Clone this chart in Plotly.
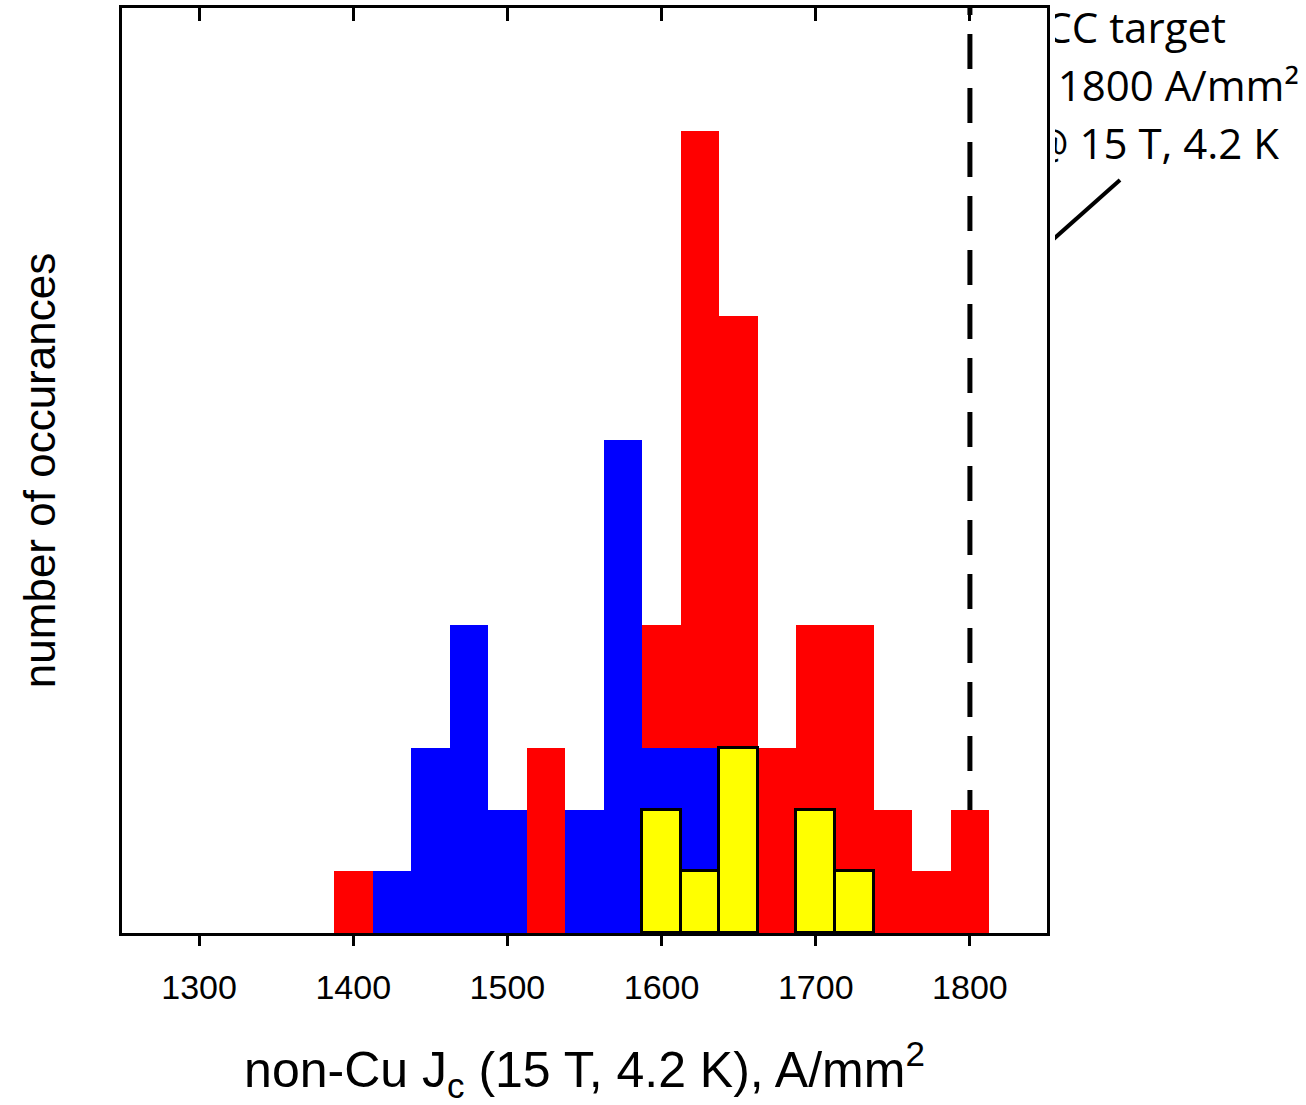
import plotly.graph_objects as go

# ---- data (bin centres in A/mm^2, counts) ----
red_x = [1400, 1500, 1525, 1575, 1600, 1625, 1650, 1675, 1700, 1725, 1750, 1775, 1800]
red_y = [1, 2, 3, 4, 5, 13, 10, 3, 5, 5, 2, 1, 2]

blue_x = [1425, 1450, 1475, 1500, 1550, 1575, 1600, 1625]
blue_y = [1, 3, 5, 2, 2, 8, 3, 3]

yellow_x = [1600, 1625, 1650, 1700, 1725]
yellow_y = [2, 1, 3, 2, 1]

BIN_WIDTH = 25
TARGET_JC = 1800
x_ticks = [1300, 1400, 1500, 1600, 1700, 1800]

note_lines = ["FCC target", "1800 A/mm²", "@ 15 T, 4.2 K"]

# ---- layout geometry (pixels) ----
W, H = 1306, 1105
ML, MR, MT, MB = 122, 0, 8, 172
PLOT_R = 1047
CLIP_L = 1055
paper_w = W - ML - MR
main_dom = (PLOT_R - ML) / paper_w
note_dom = (CLIP_L - ML) / paper_w

fig = go.Figure()
fig.add_trace(go.Bar(x=red_x, y=red_y, width=BIN_WIDTH, marker=dict(color="#ff0000", line=dict(width=0)),
                     showlegend=False))
fig.add_trace(go.Bar(x=blue_x, y=blue_y, width=BIN_WIDTH, marker=dict(color="#0000ff", line=dict(width=0)),
                     showlegend=False))
fig.add_trace(go.Bar(x=yellow_x, y=yellow_y, width=BIN_WIDTH,
                     marker=dict(color="#ffff00", line=dict(width=3, color="black")), showlegend=False))

# invisible trace to carry the mirrored top axis
fig.add_trace(go.Scatter(x=[TARGET_JC], y=[0], xaxis="x2", yaxis="y", mode="markers",
                         marker=dict(opacity=0), hoverinfo="skip", showlegend=False))

# target note, clipped on its left side
fig.add_trace(go.Scatter(x=[1226, 1299, 1279], y=[32, 90, 148], xaxis="x3", yaxis="y3",
                         mode="text", text=note_lines, textposition="middle left",
                         textfont=dict(family="Open Sans", size=42, color="black"),
                         cliponaxis=True, hoverinfo="skip", showlegend=False))
fig.add_trace(go.Scatter(x=[1120, 1030], y=[180, 260], xaxis="x3", yaxis="y3",
                         mode="lines", line=dict(color="black", width=4),
                         cliponaxis=True, hoverinfo="skip", showlegend=False))

fig.add_shape(type="line", xref="x", yref="y", x0=TARGET_JC, x1=TARGET_JC, y0=0, y1=15,
              line=dict(color="black", width=5, dash="35px,19px"), layer="below")

fig.update_layout(
    width=W, height=H,
    margin=dict(l=ML, r=MR, t=MT, b=MB),
    paper_bgcolor="white", plot_bgcolor="white",
    barmode="overlay", bargap=0,
    font=dict(family="Liberation Sans", color="black"),
    xaxis=dict(domain=[0, main_dom], range=[1250, 1850], tickvals=x_ticks,
               ticks="outside", ticklen=10, tickwidth=2.5, tickcolor="black",
               ticklabelstandoff=12,
               showline=True, linewidth=3, linecolor="black", mirror=True,
               showgrid=False, zeroline=False,
               tickfont=dict(family="Liberation Sans", size=34, color="black"),
               title=dict(text="non-Cu J<sub>c</sub> (15 T, 4.2 K), A/mm<sup>2</sup>",
                          font=dict(family="Liberation Sans", size=50, color="black"), standoff=48)),
    xaxis2=dict(overlaying="x", side="top", anchor="y", range=[1250, 1850], tickvals=x_ticks,
                ticks="inside", ticklen=13, tickwidth=2.5, tickcolor="black",
                showticklabels=False, showline=False, showgrid=False, zeroline=False),
    yaxis=dict(domain=[0, 1], range=[0, 15], showticklabels=False, ticks="",
               showline=True, linewidth=3, linecolor="black", mirror=True,
               showgrid=False, zeroline=False,
               title=dict(text="number of occurances",
                          font=dict(family="Liberation Sans", size=44, color="black"), standoff=50)),
    xaxis3=dict(domain=[note_dom, 1], range=[CLIP_L, W], visible=False, anchor="y3"),
    yaxis3=dict(domain=[0, 1], range=[H - MB, MT], visible=False, anchor="x3"),
)

fig.write_html("out.html")
